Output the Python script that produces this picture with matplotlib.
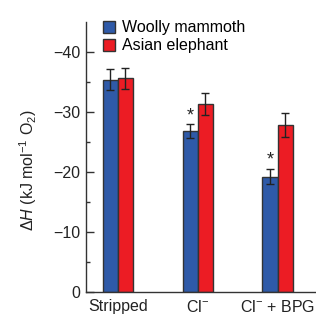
import matplotlib
matplotlib.use("Agg")
import matplotlib.pyplot as plt
import numpy as np

# values (delta H, kJ per mol O2)
conditions = ["Stripped", "Cl$^{-}$", "Cl$^{-}$ + BPG"]
mammoth = [-35.4, -26.8, -19.2]
mammoth_err = [1.8, 1.2, 1.3]
elephant = [-35.6, -31.3, -27.8]
elephant_err = [1.8, 1.9, 2.0]
significant = [False, True, True]

plt.rcParams['font.family'] = ['Liberation Sans', 'DejaVu Sans']
plt.rcParams['mathtext.fontset'] = 'custom'
plt.rcParams['mathtext.rm'] = 'Liberation Sans'
plt.rcParams['mathtext.it'] = 'Liberation Sans:italic'

blue = '#2f5aa8'
red = '#ec1c24'
edge = '#333333'

fig = plt.figure(figsize=(3.16, 3.14), dpi=100)
ax = fig.add_axes([0.272, 0.071, 0.728, 0.859])

x = np.arange(len(conditions))
w = 0.19
ax.bar(x - w/2, mammoth, w, color=blue, edgecolor=edge, linewidth=1, label='Woolly mammoth')
ax.bar(x + w/2, elephant, w, color=red, edgecolor=edge, linewidth=1, label='Asian elephant')
ax.errorbar(x - w/2, mammoth, yerr=mammoth_err, fmt='none', ecolor='#222222', elinewidth=1, capsize=3, capthick=1)
ax.errorbar(x + w/2, elephant, yerr=elephant_err, fmt='none', ecolor='#222222', elinewidth=1, capsize=3, capthick=1)

for i in range(len(conditions)):
    if significant[i]:
        ax.text(x[i] - w/2, mammoth[i] - mammoth_err[i] - 1.4, '*', ha='center', va='center', fontsize=13, color='#222222')

ax.set_xlim(-0.40, 2.48)
ax.set_ylim(0, -45)
ax.set_yticks([0, -10, -20, -30, -40])
ax.set_yticklabels(['0', '\u221210', '\u221220', '\u221230', '\u221240'])
ax.set_yticks([-5, -15, -25, -35], minor=True)
ax.tick_params(axis='y', which='major', direction='in', length=6, width=1, labelsize=11.5, pad=4, colors='#333333', labelcolor='#222222')
ax.tick_params(axis='y', which='minor', direction='in', length=3, width=1, colors='#333333')
ax.set_xticks(x)
ax.set_xticklabels(conditions)
ax.tick_params(axis='x', length=0, labelsize=11.5, pad=5, labelcolor='#222222')

for s in ['top', 'right']:
    ax.spines[s].set_visible(False)
for s in ['left', 'bottom']:
    ax.spines[s].set_color('#333333')
    ax.spines[s].set_linewidth(1)

ax.set_ylabel(r'$\Delta\mathit{H}$ (kJ mol$^{-1}$ O$_2$)', fontsize=11.5, color='#222222')
ax.yaxis.set_label_coords(-0.205, 0.45)

leg = ax.legend(loc='upper left', bbox_to_anchor=(0.045, 1.03), frameon=False, fontsize=11.5,
                handlelength=0.75, handleheight=0.75, handletextpad=0.45, labelspacing=0.2, borderaxespad=0)

fig.savefig('out.png', dpi=100)
